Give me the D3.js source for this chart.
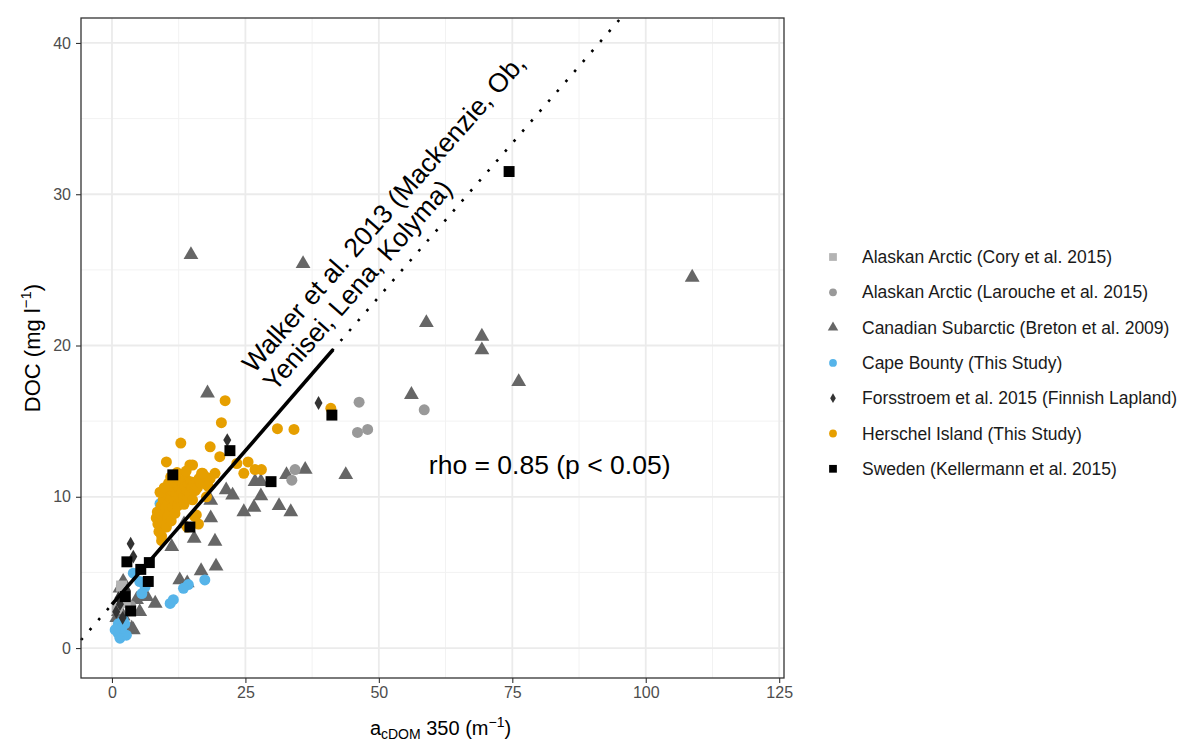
<!DOCTYPE html>
<html>
<head>
<meta charset="utf-8">
<script src="https://cdnjs.cloudflare.com/ajax/libs/d3/7.8.5/d3.min.js"></script>
<style>
  body { margin: 0; background: #fff; }
  svg { font-family: "Liberation Sans", Arial, sans-serif; }
</style>
</head>
<body>
<div class="chart"></div>
<script>
// values: [acdom350, DOC]
var coryAlaska = [[1.8, 4.1], [2.5, 3.0], [1.0, 2.6]];
var laroucheAlaska = [[46.3, 16.25], [58.5, 15.75], [46.0, 14.25], [47.9, 14.45], [34.3, 11.8], [33.7, 11.1], [2.0, 3.6], [3.5, 2.8]];
var bretonCanada = [[14.8, 26.1], [35.8, 25.5], [108.7, 24.6], [58.9, 21.6], [69.3, 20.7], [69.3, 19.8], [76.2, 17.7], [56.1, 16.85],
  [43.8, 11.55], [36.2, 11.9], [32.7, 11.55], [26.8, 11.1], [27.9, 11.1], [27.9, 10.15], [24.7, 9.1], [26.6, 9.4], [31.3, 9.5], [33.5, 9.1],
  [17.9, 16.95], [21.4, 10.55], [22.6, 10.2], [18.5, 8.7], [19.3, 7.15], [15.4, 7.35], [11.2, 6.8], [12.7, 4.6], [14.1, 4.4], [16.7, 5.2],
  [19.5, 5.5], [18.5, 9.85], [13.5, 8.3], [2.1, 4.5], [1.5, 4.05], [2.1, 3.2], [1.2, 2.5], [0.9, 2.1], [4.0, 1.3], [8.1, 3.05], [6.5, 3.5],
  [5.2, 2.5], [4.6, 3.3], [3.7, 1.4], [2.1, 2.2]];
var capeBounty = [[9.0, 9.55], [17.4, 4.5], [14.3, 4.2], [13.4, 3.95], [11.5, 3.2], [10.9, 2.95], [4.0, 4.95], [5.2, 4.4], [6.2, 4.05],
  [5.6, 3.6], [1.2, 1.6], [1.5, 0.65], [2.7, 0.85], [2.1, 1.85], [0.9, 1.3], [1.2, 0.95], [2.4, 1.6], [1.8, 1.3], [0.6, 1.2]];
var forsstroemLapland = [[38.7, 16.2], [21.6, 13.75], [3.5, 6.9], [4.0, 6.05], [1.5, 2.9], [0.8, 2.4], [2.8, 3.8], [1.2, 3.3], [2.0, 2.0]];
var herschelIsland = [[8.3, 8.6], [8.5, 9.0], [8.6, 8.2], [8.8, 7.7], [9.0, 8.9], [9.2, 9.4], [9.3, 7.4], [9.5, 8.3], [9.6, 9.8], [9.8, 8.9],
  [10.0, 9.3], [10.1, 10.1], [10.2, 8.0], [10.4, 8.6], [10.5, 9.6], [10.6, 10.6], [10.8, 9.0], [11.0, 9.9], [11.1, 8.4], [11.2, 10.4],
  [11.4, 9.3], [11.5, 10.9], [11.7, 9.7], [11.8, 8.9], [12.0, 10.2], [12.1, 10.8], [12.3, 9.4], [12.4, 9.9], [12.6, 10.5], [12.7, 11.1],
  [12.9, 9.8], [13.0, 10.3], [13.2, 10.9], [13.4, 10.0], [13.5, 9.5], [13.6, 10.7], [13.8, 11.2], [14.0, 10.4], [14.1, 9.9], [14.3, 10.9],
  [14.5, 10.2], [14.7, 11.0], [14.9, 10.6], [15.1, 9.8], [15.3, 10.9], [15.6, 10.4], [15.8, 11.0], [16.0, 10.6], [16.3, 11.2], [16.6, 10.9],
  [16.9, 11.4], [17.2, 10.9], [17.6, 11.3], [18.0, 10.7], [18.4, 11.2], [15.8, 8.8], [16.2, 8.2], [14.1, 8.0], [15.5, 8.7], [9.3, 7.1],
  [10.2, 12.3], [14.6, 12.1], [12.9, 13.55], [18.4, 13.3], [20.2, 12.65], [21.2, 16.35], [20.5, 14.9], [16.8, 11.55], [19.3, 11.55],
  [17.0, 11.55], [15.1, 12.1], [23.4, 12.2], [25.5, 12.3], [24.7, 11.55], [26.8, 11.8], [28.0, 11.8], [31.0, 14.5], [34.1, 14.45],
  [41.0, 15.85], [10.6, 10.9], [17.7, 10.0], [18.0, 10.7], [11.0, 11.3], [12.2, 11.6], [13.9, 11.7], [9.0, 10.3], [9.8, 10.6]];
var swedenKellermann = [[74.4, 31.5], [41.2, 15.4], [29.8, 11.0], [22.1, 13.05], [11.4, 11.45], [2.8, 5.7], [5.4, 5.2], [7.0, 5.65],
  [6.8, 4.4], [2.5, 3.4], [3.5, 2.45], [14.6, 8.0]];

var seriesNames = ["Alaskan Arctic (Cory et al. 2015)", "Alaskan Arctic (Larouche et al. 2015)", "Canadian Subarctic (Breton et al. 2009)",
  "Cape Bounty (This Study)", "Forsstroem et al. 2015 (Finnish Lapland)", "Herschel Island (This Study)", "Sweden (Kellermann et al. 2015)"];
var seriesColors = ["#b3b3b3", "#999999", "#666666", "#56B4E9", "#333333", "#E69F00", "#000000"];
var seriesShapes = ["square", "circle", "triangle", "circle", "diamond", "circle", "square"];

// Walker et al. 2013 regression: DOC = slope * a350 + intercept
var walkerFit = {slope: 0.4065, intercept: 2.89, solidFrom: 0, solidTo: 41.4};
var xTicks = [0, 25, 50, 75, 100, 125],
    yTicks = [0, 10, 20, 30, 40];

var width = 1192, height = 744,
    panel = {left: 81, right: 784, top: 18, bottom: 678};

var svg = d3.select(".chart").append("svg").
    attr("width", width).
    attr("height", height);

var x = d3.scaleLinear().domain([-5.8, 125.9]).range([panel.left, panel.right]),
    y = d3.scaleLinear().domain([-1.98, 41.65]).range([panel.bottom, panel.top]);

// grid
var grid = svg.append("g");
var xMinor = [12.5, 37.5, 62.5, 87.5, 112.5], yMinor = [5, 15, 25, 35];
grid.selectAll(".xminor").data(xMinor).enter().append("line").
    attr("x1", x).attr("x2", x).attr("y1", panel.top).attr("y2", panel.bottom).
    attr("stroke", "#f2f2f2").attr("stroke-width", 1);
grid.selectAll(".yminor").data(yMinor).enter().append("line").
    attr("y1", y).attr("y2", y).attr("x1", panel.left).attr("x2", panel.right).
    attr("stroke", "#f2f2f2").attr("stroke-width", 1);
grid.selectAll(".xmajor").data(xTicks).enter().append("line").
    attr("x1", x).attr("x2", x).attr("y1", panel.top).attr("y2", panel.bottom).
    attr("stroke", "#ebebeb").attr("stroke-width", 1.8);
grid.selectAll(".ymajor").data(yTicks).enter().append("line").
    attr("y1", y).attr("y2", y).attr("x1", panel.left).attr("x2", panel.right).
    attr("stroke", "#ebebeb").attr("stroke-width", 1.8);

// axes
var xAxis = svg.append("g").attr("transform", "translate(0," + panel.bottom + ")").
    call(d3.axisBottom(x).tickValues(xTicks).tickSize(5).tickPadding(4));
var yAxis = svg.append("g").attr("transform", "translate(" + panel.left + ",0)").
    call(d3.axisLeft(y).tickValues(yTicks).tickSize(5).tickPadding(5));
[xAxis, yAxis].forEach(function(a) {
    a.select(".domain").remove();
    a.selectAll(".tick line").attr("stroke", "#333").attr("stroke-width", 1.1);
    a.selectAll(".tick text").attr("fill", "#4d4d4d").style("font-size", "16px").
        style("font-family", "'Liberation Sans', Arial, sans-serif");
});

// points
var symbolSize = {square: 120, circle: 95, triangle: 95, diamond: 55};
var symbolType = {square: d3.symbolSquare, circle: d3.symbolCircle, triangle: d3.symbolTriangle, diamond: d3.symbolDiamond};
function sym(shape, k) {
    return d3.symbol().type(symbolType[shape]).size(symbolSize[shape] * (k || 1))();
}
var allSeries = [coryAlaska, laroucheAlaska, bretonCanada, capeBounty, forsstroemLapland, herschelIsland, swedenKellermann];
var drawOrder = [2, 1, 0, 3, 4, 5, 6];
var pts = svg.append("g");
drawOrder.forEach(function(i) {
    pts.selectAll(".s" + i).data(allSeries[i]).enter().append("path").
        attr("class", "s" + i).
        attr("d", sym(seriesShapes[i])).
        attr("transform", function(d) {
            var dy = seriesShapes[i] === "triangle" ? 1.5 : 0;
            return "translate(" + x(d[0]) + "," + (y(d[1]) + dy) + ")";
        }).
        attr("fill", seriesColors[i]);
});

// Walker lines
var fitY = function(v) { return walkerFit.slope * v + walkerFit.intercept; };
var xd = x.domain(), yTop = y.domain()[1];
var dottedEnd = Math.min(xd[1], (yTop - walkerFit.intercept) / walkerFit.slope);
svg.append("line").
    attr("x1", x(xd[0])).attr("y1", y(fitY(xd[0]))).
    attr("x2", x(dottedEnd)).attr("y2", y(fitY(dottedEnd))).
    attr("stroke", "#000").attr("stroke-width", 2.6).
    attr("stroke-dasharray", "2.6 10.6");
svg.append("line").
    attr("x1", x(walkerFit.solidFrom)).attr("y1", y(fitY(walkerFit.solidFrom))).
    attr("x2", x(walkerFit.solidTo)).attr("y2", y(fitY(walkerFit.solidTo))).
    attr("stroke", "#000").attr("stroke-width", 3.6);

// panel border
svg.append("rect").
    attr("x", panel.left).attr("y", panel.top).
    attr("width", panel.right - panel.left).attr("height", panel.bottom - panel.top).
    attr("fill", "none").attr("stroke", "#333").attr("stroke-width", 1.3);

// annotation along the line
var ang = Math.atan2(y(fitY(0)) - y(fitY(40)), x(40) - x(0)) * 180 / Math.PI;
var walkerText = svg.append("text").
    attr("transform", "translate(254,374) rotate(" + (-ang + 0.4) + ")").
    style("font-size", "26.5px").attr("fill", "#000");
walkerText.append("tspan").attr("x", 0).attr("y", 0).text("Walker et al. 2013 (Mackenzie, Ob,");
walkerText.append("tspan").attr("x", 0).attr("y", 28).text("Yenisei, Lena, Kolyma)");

svg.append("text").
    attr("x", x(82)).attr("y", y(12.1)).attr("dy", "0.35em").
    attr("text-anchor", "middle").
    style("font-size", "26.5px").
    text("rho = 0.85 (p < 0.05)");

// axis titles
var xt = svg.append("text").
    attr("x", (panel.left + panel.right) / 2 + 8).attr("y", 735).
    attr("text-anchor", "middle").style("font-size", "20px").attr("fill", "#000");
xt.append("tspan").text("a");
xt.append("tspan").attr("dy", 4).style("font-size", "14px").text("cDOM");
xt.append("tspan").attr("dy", -4).text(" 350 (m");
xt.append("tspan").attr("dy", -8).style("font-size", "14px").text("\u22121");
xt.append("tspan").attr("dy", 8).text(")");

var yt = svg.append("text").
    attr("transform", "translate(40," + ((panel.top + panel.bottom) / 2) + ") rotate(-90)").
    attr("text-anchor", "middle").style("font-size", "22px").attr("fill", "#000");
yt.append("tspan").text("DOC (mg l");
yt.append("tspan").attr("dy", -9).style("font-size", "15px").text("\u22121");
yt.append("tspan").attr("dy", 9).text(")");

// legend
var legend = svg.append("g");
var legendRows = legend.selectAll(".row").data(seriesNames).enter().append("g").
    attr("transform", function(d, i) { return "translate(833," + (257 + i * 35.3) + ")"; });
legendRows.append("path").
    attr("d", function(d, i) { return sym(seriesShapes[i], 0.5); }).
    attr("fill", function(d, i) { return seriesColors[i]; });
legendRows.append("text").
    attr("x", 29).attr("dy", "0.35em").
    style("font-size", "17.5px").attr("fill", "#1a1a1a").
    text(function(d) { return d; });
</script>
</body>
</html>
